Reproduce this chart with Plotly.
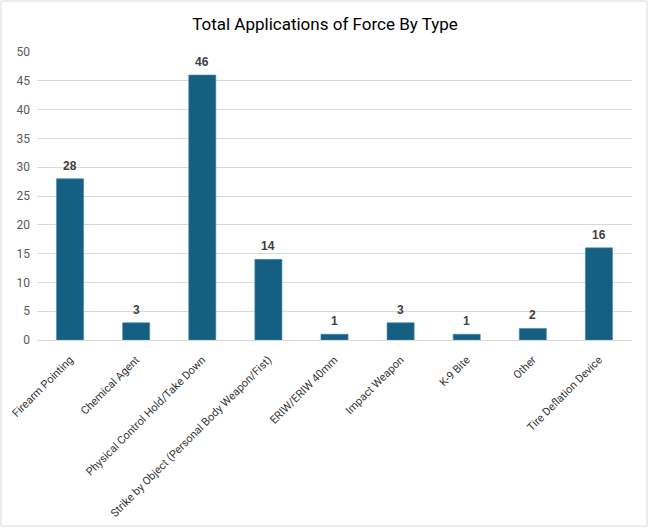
import plotly.graph_objects as go

categories = ["Firearm Pointing", "Chemical Agent", "Physical Control Hold/Take Down",
              "Strike by Object (Personal Body Weapon/Fist)", "ERIW/ERIW 40mm",
              "Impact Weapon", "K-9 Bite", "Other", "Tire Deflation Device"]
counts = [28, 3, 46, 14, 1, 3, 1, 2, 16]

W, H = 650, 529
ml, mr, mt, mb = 37, 18, 52, 189
pw, ph = W - ml - mr, H - mt - mb

fig = go.Figure(go.Bar(
    x=categories, y=counts,
    marker_color="#156082",
    marker_line=dict(color="#4a8aa8", width=0.6),
    cliponaxis=False,
))

# data labels above the bars
for c, v in zip(categories, counts):
    fig.add_annotation(x=c, y=v, text=str(v), showarrow=False, yanchor="bottom", yshift=4,
                       font=dict(family="Liberation Sans", size=12, color="#404040", weight="bold"))

fig.update_layout(
    width=W, height=H,
    margin=dict(l=ml, r=mr, t=mt, b=mb),
    plot_bgcolor="white", paper_bgcolor="white",
    bargap=0.59,
    showlegend=False,
    title=dict(text="Total Applications of Force By Type", x=0.5, xanchor="center",
               y=1 - 24 / H, yanchor="middle",
               font=dict(family="Roboto", size=17, color="#000000")),
    font=dict(family="Roboto", size=12, color="#595959"),
)
fig.update_xaxes(tickangle=-45, showline=True, linecolor="#d9d9d9", ticks="",
                 automargin=False, ticklabelstandoff=8,
                 tickfont=dict(size=11, color="#333333"))
fig.update_yaxes(range=[0, 50], dtick=5, gridcolor="#d9d9d9", zeroline=False,
                 automargin=False, ticklabelstandoff=6,
                 tickfont=dict(size=12, color="#595959"), ticks="")

# chart border
fig.add_shape(type="rect", xref="paper", yref="paper",
              x0=(1 - ml) / pw, x1=(W - 3 - ml) / pw,
              y0=-(H - 3 - mt - ph) / ph, y1=1 + (mt - 1) / ph,
              line=dict(color="#d9d9d9", width=1), fillcolor="rgba(0,0,0,0)", layer="below")

fig.write_html("out.html", config={"displayModeBar": False},
               post_script="document.body.style.margin='0';")
